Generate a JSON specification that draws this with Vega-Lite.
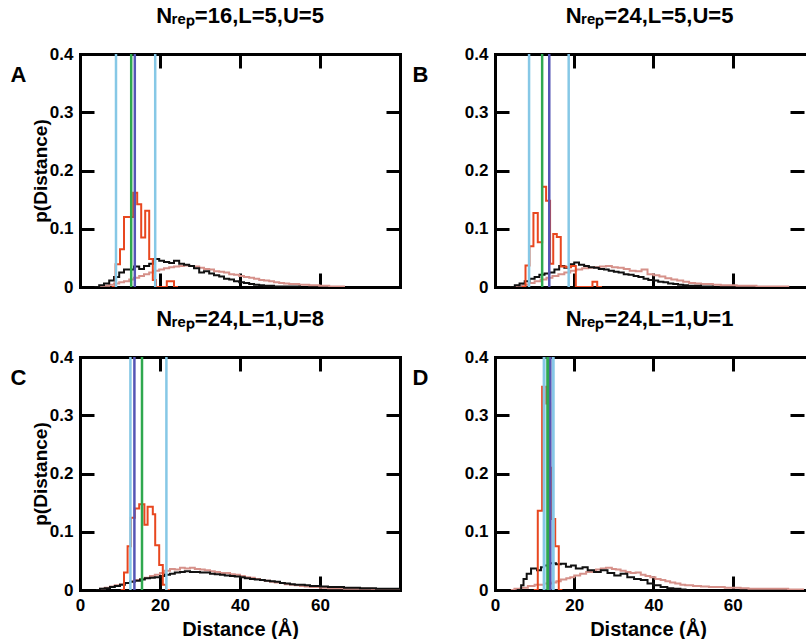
{
  "$schema": "https://vega.github.io/schema/vega-lite/v6.json",
  "padding": {"left": 10, "top": 5, "right": 0, "bottom": 0},
  "bounds": "flush",
  "columns": 2,
  "spacing": {"row": 70, "column": 95},
  "datasets": {
    "a_red": [{"x":7.9,"p":0},{"x":8.9,"p":0.039},{"x":10.0,"p":0.065},{"x":11.0,"p":0.12},{"x":13.3,"p":0.162},{"x":14.3,"p":0.142},{"x":15.3,"p":0.085},{"x":16.3,"p":0.131},{"x":17.3,"p":0.048},{"x":18.2,"p":0.012},{"x":19.0,"p":0},{"x":21.7,"p":0.01},{"x":23.5,"p":0},{"x":24.5,"p":0}],
    "a_blk": [{"x":3.6,"p":0},{"x":4.8,"p":0.003},{"x":6.0,"p":0.006},{"x":7.3,"p":0.011},{"x":8.5,"p":0.017},{"x":9.8,"p":0.025},{"x":11.0,"p":0.03},{"x":12.3,"p":0.03},{"x":13.5,"p":0.035},{"x":14.8,"p":0.031},{"x":16.0,"p":0.036},{"x":17.3,"p":0.04},{"x":18.5,"p":0.048},{"x":19.8,"p":0.045},{"x":21.0,"p":0.043},{"x":22.3,"p":0.041},{"x":23.5,"p":0.045},{"x":24.8,"p":0.04},{"x":26.0,"p":0.038},{"x":27.3,"p":0.036},{"x":28.5,"p":0.032},{"x":29.8,"p":0.025},{"x":31.0,"p":0.027},{"x":32.3,"p":0.023},{"x":33.5,"p":0.02},{"x":34.8,"p":0.018},{"x":36.0,"p":0.014},{"x":37.3,"p":0.013},{"x":38.5,"p":0.01},{"x":39.8,"p":0.008},{"x":41.0,"p":0.007},{"x":42.3,"p":0.005},{"x":43.5,"p":0.004},{"x":44.8,"p":0.003},{"x":46.0,"p":0.002},{"x":47.3,"p":0.002},{"x":48.5,"p":0.001},{"x":50.0,"p":0.001},{"x":55.0,"p":0}],
    "a_pnk": [{"x":4.5,"p":0},{"x":6,"p":0.002},{"x":7.3,"p":0.004},{"x":8.5,"p":0.006},{"x":9.8,"p":0.008},{"x":11,"p":0.01},{"x":12.3,"p":0.013},{"x":13.5,"p":0.016},{"x":14.8,"p":0.019},{"x":16,"p":0.022},{"x":17.3,"p":0.025},{"x":18.5,"p":0.028},{"x":19.8,"p":0.03},{"x":21,"p":0.032},{"x":22.3,"p":0.034},{"x":23.5,"p":0.035},{"x":24.8,"p":0.036},{"x":26,"p":0.037},{"x":27.3,"p":0.036},{"x":28.5,"p":0.035},{"x":29.8,"p":0.033},{"x":31,"p":0.031},{"x":32.3,"p":0.03},{"x":33.5,"p":0.027},{"x":34.8,"p":0.026},{"x":36,"p":0.025},{"x":37.3,"p":0.022},{"x":38.5,"p":0.021},{"x":39.8,"p":0.019},{"x":41,"p":0.017},{"x":42.3,"p":0.016},{"x":43.5,"p":0.014},{"x":44.8,"p":0.012},{"x":46,"p":0.011},{"x":47.3,"p":0.01},{"x":48.5,"p":0.008},{"x":49.8,"p":0.007},{"x":51,"p":0.006},{"x":52.3,"p":0.005},{"x":53.5,"p":0.005},{"x":54.8,"p":0.004},{"x":56,"p":0.004},{"x":57.3,"p":0.003},{"x":58.5,"p":0.003},{"x":59.8,"p":0.002},{"x":61,"p":0.002},{"x":62.3,"p":0.001},{"x":64,"p":0.001},{"x":66,"p":0}],
    "a_vl": [{"x":9.0,"s":"lb"},{"x":18.8,"s":"lb"},{"x":12.8,"s":"green"},{"x":13.7,"s":"purple"}],
    "b_red": [{"x":6.8,"p":0},{"x":7.7,"p":0.037},{"x":8.7,"p":0.07},{"x":9.7,"p":0.127},{"x":10.8,"p":0.077},{"x":11.9,"p":0.172},{"x":12.9,"p":0.148},{"x":13.9,"p":0.04},{"x":14.7,"p":0.091},{"x":15.6,"p":0.086},{"x":16.6,"p":0.035},{"x":17.9,"p":0.034},{"x":19.2,"p":0.036},{"x":20.4,"p":0},{"x":24.6,"p":0.009},{"x":25.8,"p":0},{"x":27,"p":0}],
    "b_blk": [{"x":4,"p":0},{"x":5,"p":0.003},{"x":6.2,"p":0.006},{"x":7.5,"p":0.01},{"x":8.7,"p":0.014},{"x":10,"p":0.017},{"x":11.2,"p":0.021},{"x":12.5,"p":0.023},{"x":13.7,"p":0.025},{"x":15,"p":0.03},{"x":16.2,"p":0.036},{"x":17.5,"p":0.033},{"x":18.7,"p":0.039},{"x":20,"p":0.042},{"x":21.2,"p":0.038},{"x":22.5,"p":0.036},{"x":23.7,"p":0.034},{"x":25,"p":0.033},{"x":26.2,"p":0.031},{"x":27.5,"p":0.03},{"x":28.7,"p":0.028},{"x":30,"p":0.026},{"x":31.2,"p":0.025},{"x":32.5,"p":0.022},{"x":33.7,"p":0.021},{"x":35,"p":0.019},{"x":36.2,"p":0.017},{"x":37.5,"p":0.014},{"x":38.7,"p":0.012},{"x":40,"p":0.011},{"x":41.2,"p":0.009},{"x":42.5,"p":0.008},{"x":43.7,"p":0.006},{"x":45,"p":0.005},{"x":46.2,"p":0.004},{"x":47.5,"p":0.003},{"x":48.7,"p":0.002},{"x":50,"p":0.002},{"x":52,"p":0.001},{"x":55,"p":0}],
    "b_pnk": [{"x":4,"p":0},{"x":5.5,"p":0.002},{"x":7,"p":0.004},{"x":8.5,"p":0.007},{"x":10,"p":0.01},{"x":11.5,"p":0.013},{"x":13,"p":0.016},{"x":14.5,"p":0.019},{"x":16,"p":0.022},{"x":17.5,"p":0.025},{"x":19,"p":0.028},{"x":20.5,"p":0.03},{"x":22,"p":0.032},{"x":23.5,"p":0.033},{"x":25,"p":0.034},{"x":26.5,"p":0.035},{"x":28,"p":0.036},{"x":29.5,"p":0.034},{"x":31,"p":0.033},{"x":32.5,"p":0.031},{"x":34,"p":0.028},{"x":35.5,"p":0.027},{"x":37,"p":0.03},{"x":38.5,"p":0.022},{"x":40,"p":0.02},{"x":41.5,"p":0.018},{"x":43,"p":0.015},{"x":44.5,"p":0.013},{"x":46,"p":0.011},{"x":47.5,"p":0.009},{"x":49,"p":0.007},{"x":50.5,"p":0.006},{"x":52,"p":0.005},{"x":53.5,"p":0.005},{"x":55,"p":0.004},{"x":57,"p":0.003},{"x":59,"p":0.003},{"x":61,"p":0.002},{"x":63,"p":0.002},{"x":66,"p":0.001},{"x":70,"p":0.001},{"x":74,"p":0}],
    "b_vl": [{"x":8.6,"s":"lb"},{"x":18.6,"s":"lb"},{"x":11.9,"s":"green"},{"x":13.7,"s":"purple"}],
    "c_red": [{"x":10.2,"p":0},{"x":11.0,"p":0.03},{"x":11.9,"p":0.075},{"x":12.7,"p":0.124},{"x":13.7,"p":0.14},{"x":14.8,"p":0.147},{"x":16.1,"p":0.112},{"x":16.9,"p":0.143},{"x":18.2,"p":0.13},{"x":18.8,"p":0.077},{"x":19.8,"p":0.043},{"x":20.7,"p":0.009},{"x":21.5,"p":0},{"x":22.5,"p":0}],
    "c_blk": [{"x":4,"p":0},{"x":5,"p":0.002},{"x":6.2,"p":0.003},{"x":7.5,"p":0.005},{"x":8.7,"p":0.007},{"x":10,"p":0.009},{"x":11.2,"p":0.012},{"x":12.5,"p":0.014},{"x":13.7,"p":0.016},{"x":15,"p":0.018},{"x":16.2,"p":0.02},{"x":17.5,"p":0.021},{"x":18.7,"p":0.022},{"x":20,"p":0.024},{"x":21.2,"p":0.026},{"x":22.5,"p":0.028},{"x":23.7,"p":0.03},{"x":25,"p":0.031},{"x":26.2,"p":0.032},{"x":27.5,"p":0.031},{"x":28.7,"p":0.031},{"x":30,"p":0.03},{"x":31.2,"p":0.03},{"x":32.5,"p":0.028},{"x":33.7,"p":0.027},{"x":35,"p":0.026},{"x":36.2,"p":0.025},{"x":37.5,"p":0.024},{"x":38.7,"p":0.023},{"x":40,"p":0.022},{"x":41.2,"p":0.02},{"x":42.5,"p":0.019},{"x":43.7,"p":0.018},{"x":45,"p":0.017},{"x":46.2,"p":0.016},{"x":47.5,"p":0.015},{"x":48.7,"p":0.014},{"x":50,"p":0.012},{"x":51.2,"p":0.011},{"x":52.5,"p":0.01},{"x":53.7,"p":0.009},{"x":55,"p":0.009},{"x":56.2,"p":0.008},{"x":57.5,"p":0.007},{"x":58.7,"p":0.007},{"x":60,"p":0.006},{"x":62,"p":0.005},{"x":64,"p":0.005},{"x":66,"p":0.004},{"x":68,"p":0.004},{"x":70,"p":0.003},{"x":72,"p":0.003},{"x":74,"p":0.002},{"x":76,"p":0.002},{"x":78,"p":0.002},{"x":80,"p":0.002}],
    "c_pnk": [{"x":4,"p":0},{"x":5,"p":0.002},{"x":6.2,"p":0.004},{"x":7.5,"p":0.006},{"x":8.7,"p":0.008},{"x":10,"p":0.01},{"x":11.2,"p":0.012},{"x":12.5,"p":0.015},{"x":13.7,"p":0.017},{"x":15,"p":0.019},{"x":16.2,"p":0.021},{"x":17.5,"p":0.024},{"x":18.7,"p":0.026},{"x":20,"p":0.029},{"x":21.2,"p":0.033},{"x":22.5,"p":0.036},{"x":23.7,"p":0.035},{"x":25,"p":0.038},{"x":26.2,"p":0.037},{"x":27.5,"p":0.038},{"x":28.7,"p":0.036},{"x":30,"p":0.035},{"x":31.2,"p":0.034},{"x":32.5,"p":0.032},{"x":33.7,"p":0.031},{"x":35,"p":0.029},{"x":36.2,"p":0.029},{"x":37.5,"p":0.027},{"x":38.7,"p":0.026},{"x":40,"p":0.024},{"x":41.2,"p":0.022},{"x":42.5,"p":0.021},{"x":43.7,"p":0.019},{"x":45,"p":0.017},{"x":46.2,"p":0.016},{"x":47.5,"p":0.014},{"x":48.7,"p":0.013},{"x":50,"p":0.012},{"x":51.2,"p":0.01},{"x":52.5,"p":0.009},{"x":53.7,"p":0.008},{"x":55,"p":0.007},{"x":56.2,"p":0.006},{"x":57.5,"p":0.005},{"x":58.7,"p":0.005},{"x":60,"p":0.004},{"x":62,"p":0.003},{"x":64,"p":0.003},{"x":66,"p":0.002},{"x":68,"p":0.002},{"x":70,"p":0.002},{"x":73,"p":0.001},{"x":76,"p":0.001},{"x":80,"p":0.001}],
    "c_vl": [{"x":12.6,"s":"lb"},{"x":21.6,"s":"lb"},{"x":15.5,"s":"green"},{"x":13.6,"s":"purple"}],
    "d_red": [{"x":9.8,"p":0},{"x":10.8,"p":0.136},{"x":11.9,"p":0.349},{"x":12.9,"p":0.32},{"x":13.9,"p":0.21},{"x":14.4,"p":0.122},{"x":15.2,"p":0.075},{"x":16.1,"p":0},{"x":17,"p":0}],
    "d_blk": [{"x":5.5,"p":0},{"x":6.6,"p":0.008},{"x":7.2,"p":0.019},{"x":8.0,"p":0.028},{"x":9.1,"p":0.037},{"x":10.6,"p":0.034},{"x":11.6,"p":0.039},{"x":12.4,"p":0.042},{"x":13.7,"p":0.046},{"x":15.4,"p":0.044},{"x":16.6,"p":0.045},{"x":17.9,"p":0.04},{"x":19.2,"p":0.042},{"x":20.4,"p":0.037},{"x":22.1,"p":0.039},{"x":23.4,"p":0.034},{"x":25,"p":0.031},{"x":26.7,"p":0.034},{"x":28.4,"p":0.029},{"x":30.1,"p":0.025},{"x":31.7,"p":0.028},{"x":33.4,"p":0.022},{"x":35.1,"p":0.019},{"x":36.8,"p":0.017},{"x":38.5,"p":0.011},{"x":40.1,"p":0.008},{"x":41.8,"p":0.005},{"x":43.5,"p":0.003},{"x":45,"p":0.002},{"x":46.8,"p":0.001},{"x":48.1,"p":0}],
    "d_pnk": [{"x":4,"p":0},{"x":4.9,"p":0.002},{"x":6.5,"p":0.004},{"x":8.3,"p":0.007},{"x":10,"p":0.009},{"x":12.4,"p":0.011},{"x":14.5,"p":0.013},{"x":15.5,"p":0.015},{"x":16.6,"p":0.018},{"x":18,"p":0.02},{"x":19,"p":0.022},{"x":20,"p":0.025},{"x":21.5,"p":0.028},{"x":23,"p":0.031},{"x":24.5,"p":0.033},{"x":25.5,"p":0.035},{"x":26.7,"p":0.037},{"x":28,"p":0.038},{"x":29.5,"p":0.036},{"x":30.5,"p":0.035},{"x":31.7,"p":0.033},{"x":33,"p":0.031},{"x":34.2,"p":0.029},{"x":35.5,"p":0.03},{"x":36.8,"p":0.026},{"x":38,"p":0.024},{"x":39.2,"p":0.022},{"x":40.5,"p":0.019},{"x":41.8,"p":0.017},{"x":43,"p":0.015},{"x":44.2,"p":0.013},{"x":45.5,"p":0.011},{"x":46.8,"p":0.009},{"x":48,"p":0.008},{"x":50,"p":0.007},{"x":52,"p":0.006},{"x":54,"p":0.005},{"x":56,"p":0.005},{"x":58,"p":0.004},{"x":60,"p":0.004},{"x":62,"p":0.003},{"x":64,"p":0.002},{"x":66,"p":0.002},{"x":70,"p":0.002},{"x":74,"p":0.001},{"x":78,"p":0.001}],
    "d_vl": [{"x":12.4,"s":"lb"},{"x":14.7,"s":"lb"},{"x":13.9,"s":"purple"},{"x":13.3,"s":"green"}]
  },
  "concat": [
    {
      "width": 320, "height": 233,
      "title": {"text": "N\u1d63\u2091\u209a=16,L=5,U=5"},
      "layer": [
        {"data": {"name": "a_pnk"}, "mark": {"type": "line", "interpolate": "step-after", "color": "#d6918a", "strokeWidth": 2, "clip": true},
         "encoding": {
           "x": {"field": "x", "type": "quantitative", "scale": {"domain": [0, 80], "nice": false, "zero": false}, "axis": {"orient": "top", "values": [20, 40, 60], "labels": false, "title": "A", "titleX": -70, "titleY": 10, "titleAlign": "left", "titleBaseline": "top", "titleAngle": 0, "titleFontSize": 22}},
           "y": {"field": "p", "type": "quantitative", "scale": {"domain": [0, 0.4], "nice": false, "zero": false}, "axis": {"orient": "right", "values": [0, 0.1, 0.2, 0.3, 0.4], "labels": false, "title": null}}}},
        {"data": {"name": "a_blk"}, "mark": {"type": "line", "interpolate": "step-after", "color": "#111111", "strokeWidth": 2, "clip": true},
         "encoding": {
           "x": {"field": "x", "type": "quantitative", "axis": {"orient": "bottom", "values": [0, 20, 40, 60], "labels": false, "title": null}},
           "y": {"field": "p", "type": "quantitative", "axis": {"orient": "left", "values": [0, 0.1, 0.2, 0.3, 0.4], "format": ".1~f", "title": "p(Distance)", "titleX": -40, "titleY": 116.5, "titleAngle": -90, "titleAlign": "center", "titleBaseline": "middle", "titleFontSize": 19}}}},
        {"data": {"name": "a_red"}, "mark": {"type": "line", "interpolate": "step-after", "color": "#e8471f", "strokeWidth": 2, "clip": true},
         "encoding": {"x": {"field": "x", "type": "quantitative", "axis": null}, "y": {"field": "p", "type": "quantitative", "axis": null}}},
        {"data": {"name": "a_vl"}, "mark": {"type": "rule", "strokeWidth": 2.5},
         "encoding": {"x": {"field": "x", "type": "quantitative", "axis": null}, "color": {"field": "s", "type": "nominal", "scale": {"domain": ["lb", "green", "purple"], "range": ["#86c8e6", "#2fa84f", "#5555b5"]}, "legend": null}}}
      ],
      "resolve": {"axis": {"x": "independent", "y": "independent"}}
    },
    {
      "width": 309, "height": 233,
      "title": {"text": "N\u1d63\u2091\u209a=24,L=5,U=5"},
      "layer": [
        {"data": {"name": "b_pnk"}, "mark": {"type": "line", "interpolate": "step-after", "color": "#d6918a", "strokeWidth": 2, "clip": true},
         "encoding": {
           "x": {"field": "x", "type": "quantitative", "scale": {"domain": [0, 78], "nice": false, "zero": false}, "axis": {"orient": "top", "values": [20, 40, 60], "labels": false, "title": "B", "titleX": -83, "titleY": 10, "titleAlign": "left", "titleBaseline": "top", "titleAngle": 0, "titleFontSize": 22}},
           "y": {"field": "p", "type": "quantitative", "scale": {"domain": [0, 0.4], "nice": false, "zero": false}, "axis": {"orient": "right", "domain": false, "values": [0, 0.1, 0.2, 0.3, 0.4], "labels": false, "title": null}}}},
        {"data": {"name": "b_blk"}, "mark": {"type": "line", "interpolate": "step-after", "color": "#111111", "strokeWidth": 2, "clip": true},
         "encoding": {
           "x": {"field": "x", "type": "quantitative", "axis": {"orient": "bottom", "values": [0, 20, 40, 60], "labels": false, "title": null}},
           "y": {"field": "p", "type": "quantitative", "axis": {"orient": "left", "values": [0, 0.1, 0.2, 0.3, 0.4], "format": ".1~f", "title": null}}}},
        {"data": {"name": "b_red"}, "mark": {"type": "line", "interpolate": "step-after", "color": "#e8471f", "strokeWidth": 2, "clip": true},
         "encoding": {"x": {"field": "x", "type": "quantitative", "axis": null}, "y": {"field": "p", "type": "quantitative", "axis": null}}},
        {"data": {"name": "b_vl"}, "mark": {"type": "rule", "strokeWidth": 2.5},
         "encoding": {"x": {"field": "x", "type": "quantitative", "axis": null}, "color": {"field": "s", "type": "nominal", "scale": {"domain": ["lb", "green", "purple"], "range": ["#86c8e6", "#2fa84f", "#5555b5"]}, "legend": null}}}
      ],
      "resolve": {"axis": {"x": "independent", "y": "independent"}}
    },
    {
      "width": 320, "height": 233,
      "title": {"text": "N\u1d63\u2091\u209a=24,L=1,U=8"},
      "layer": [
        {"data": {"name": "c_pnk"}, "mark": {"type": "line", "interpolate": "step-after", "color": "#d6918a", "strokeWidth": 2, "clip": true},
         "encoding": {
           "x": {"field": "x", "type": "quantitative", "scale": {"domain": [0, 80], "nice": false, "zero": false}, "axis": {"orient": "top", "values": [20, 40, 60], "labels": false, "title": "C", "titleX": -70, "titleY": 10, "titleAlign": "left", "titleBaseline": "top", "titleAngle": 0, "titleFontSize": 22}},
           "y": {"field": "p", "type": "quantitative", "scale": {"domain": [0, 0.4], "nice": false, "zero": false}, "axis": {"orient": "right", "values": [0, 0.1, 0.2, 0.3, 0.4], "labels": false, "title": null}}}},
        {"data": {"name": "c_blk"}, "mark": {"type": "line", "interpolate": "step-after", "color": "#111111", "strokeWidth": 2, "clip": true},
         "encoding": {
           "x": {"field": "x", "type": "quantitative", "axis": {"orient": "bottom", "values": [0, 20, 40, 60], "labels": true, "title": "Distance (Å)", "titleX": 160, "titleY": 45, "titleAlign": "center", "titleBaseline": "alphabetic"}},
           "y": {"field": "p", "type": "quantitative", "axis": {"orient": "left", "values": [0, 0.1, 0.2, 0.3, 0.4], "format": ".1~f", "title": "p(Distance)", "titleX": -40, "titleY": 116.5, "titleAngle": -90, "titleAlign": "center", "titleBaseline": "middle", "titleFontSize": 19}}}},
        {"data": {"name": "c_red"}, "mark": {"type": "line", "interpolate": "step-after", "color": "#e8471f", "strokeWidth": 2, "clip": true},
         "encoding": {"x": {"field": "x", "type": "quantitative", "axis": null}, "y": {"field": "p", "type": "quantitative", "axis": null}}},
        {"data": {"name": "c_vl"}, "mark": {"type": "rule", "strokeWidth": 2.5},
         "encoding": {"x": {"field": "x", "type": "quantitative", "axis": null}, "color": {"field": "s", "type": "nominal", "scale": {"domain": ["lb", "green", "purple"], "range": ["#86c8e6", "#2fa84f", "#5555b5"]}, "legend": null}}}
      ],
      "resolve": {"axis": {"x": "independent", "y": "independent"}}
    },
    {
      "width": 309, "height": 233,
      "title": {"text": "N\u1d63\u2091\u209a=24,L=1,U=1"},
      "layer": [
        {"data": {"name": "d_pnk"}, "mark": {"type": "line", "interpolate": "step-after", "color": "#d6918a", "strokeWidth": 2, "clip": true},
         "encoding": {
           "x": {"field": "x", "type": "quantitative", "scale": {"domain": [0, 78], "nice": false, "zero": false}, "axis": {"orient": "top", "values": [20, 40, 60], "labels": false, "title": "D", "titleX": -83, "titleY": 10, "titleAlign": "left", "titleBaseline": "top", "titleAngle": 0, "titleFontSize": 22}},
           "y": {"field": "p", "type": "quantitative", "scale": {"domain": [0, 0.4], "nice": false, "zero": false}, "axis": {"orient": "right", "domain": false, "values": [0, 0.1, 0.2, 0.3, 0.4], "labels": false, "title": null}}}},
        {"data": {"name": "d_blk"}, "mark": {"type": "line", "interpolate": "step-after", "color": "#111111", "strokeWidth": 2, "clip": true},
         "encoding": {
           "x": {"field": "x", "type": "quantitative", "axis": {"orient": "bottom", "values": [0, 20, 40, 60], "labels": true, "title": "Distance (Å)", "titleX": 153, "titleY": 45, "titleAlign": "center", "titleBaseline": "alphabetic"}},
           "y": {"field": "p", "type": "quantitative", "axis": {"orient": "left", "values": [0, 0.1, 0.2, 0.3, 0.4], "format": ".1~f", "title": null}}}},
        {"data": {"name": "d_red"}, "mark": {"type": "line", "interpolate": "step-after", "color": "#e8471f", "strokeWidth": 2, "clip": true},
         "encoding": {"x": {"field": "x", "type": "quantitative", "axis": null}, "y": {"field": "p", "type": "quantitative", "axis": null}}},
        {"data": {"name": "d_vl"}, "mark": {"type": "rule", "strokeWidth": 3},
         "encoding": {"x": {"field": "x", "type": "quantitative", "axis": null}, "color": {"field": "s", "type": "nominal", "scale": {"domain": ["lb", "green", "purple"], "range": ["#86c8e6", "#2fa84f", "#5555b5"]}, "legend": null}}}
      ],
      "resolve": {"axis": {"x": "independent", "y": "independent"}}
    }
  ],
  "config": {
    "font": "Liberation Sans",
    "view": {"stroke": null},
    "axis": {"grid": false, "domainColor": "#000000", "domainWidth": 3, "domainCap": "square", "tickColor": "#000000", "tickWidth": 3, "tickSize": -14, "labelColor": "#000000", "labelFont": "Liberation Sans", "labelFontSize": 17, "labelFontWeight": "bold", "labelFlush": false, "labelOverlap": false, "labelPadding": 21, "titleColor": "#000000", "titleFont": "Liberation Sans", "titleFontWeight": "bold", "titleFontSize": 20},
    "title": {"frame": "group", "anchor": "middle", "offset": 17, "baseline": "alphabetic", "fontSize": 22, "fontWeight": "bold", "font": "Liberation Sans", "color": "#000000"}
  }
}
